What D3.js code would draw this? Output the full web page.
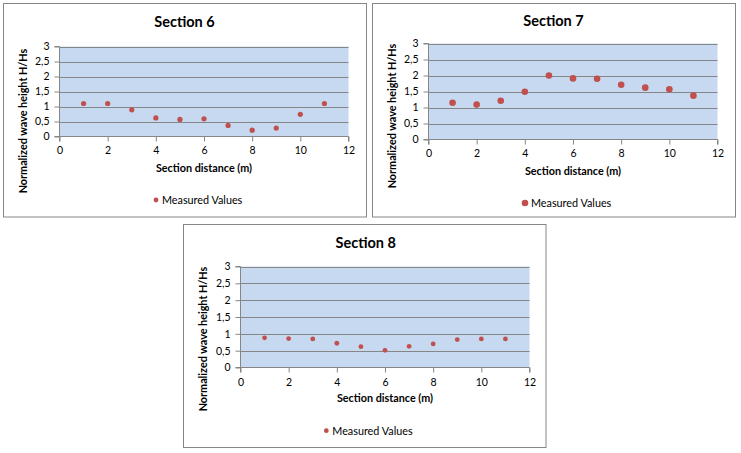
<!DOCTYPE html>
<html>
<head>
<meta charset="utf-8">
<script src="https://cdn.jsdelivr.net/npm/d3@7"></script>
<style>
  html, body { margin: 0; padding: 0; background: #ffffff; }
  svg { display: block; }
  text { font-family: Lato, "Open Sans", sans-serif; fill: #000; }
</style>
</head>
<body>
<svg id="chart" width="741" height="453"></svg>
<script>
// ---- data ----
const xValues = [1, 2, 3, 4, 5, 6, 7, 8, 9, 10, 11];
const section6Values = [1.10, 1.10, 0.89, 0.62, 0.57, 0.59, 0.37, 0.21, 0.28, 0.74, 1.10];
const section7Values = [1.15, 1.09, 1.21, 1.49, 2.00, 1.91, 1.90, 1.71, 1.62, 1.57, 1.37];
const section8Values = [0.88, 0.86, 0.85, 0.72, 0.62, 0.51, 0.63, 0.70, 0.83, 0.85, 0.85];
const panelTitles = ["Section 6", "Section 7", "Section 8"];
const xTicks = [0, 2, 4, 6, 8, 10, 12];
const yTicks = [0, 0.5, 1, 1.5, 2, 2.5, 3];
const yTickLabels = ["0", "0,5", "1", "1,5", "2", "2,5", "3"];
const xAxisTitle = "Section distance (m)";
const yAxisTitle = "Normalized wave height H/Hs";
const legendLabel = "Measured Values";

// ---- layout (positions only) ----
const panels = [
  { values: section6Values, title: panelTitles[0],
    box: [3.5, 3.5, 363, 213.5],
    plot: { left: 59.5, right: 348.5, top: 46.5, bottom: 136.5 },
    titleX: 184.5, titleY: 27, xTickY: 154, xTitleY: 172, yTitleX: 27, yTitleY: 121,
    legX: 156, legY: 200, r: 2.6, legR: 2.4 },
  { values: section7Values, title: panelTitles[1],
    box: [372.5, 3.5, 363, 213.5],
    plot: { left: 428.5, right: 717.5, top: 43.5, bottom: 139.5 },
    titleX: 553.5, titleY: 26, xTickY: 157, xTitleY: 175, yTitleX: 396, yTitleY: 116,
    legX: 525, legY: 203, r: 3.3, legR: 3.3 },
  { values: section8Values, title: panelTitles[2],
    box: [183.5, 224.5, 362.5, 223],
    plot: { left: 240.5, right: 529.5, top: 266.5, bottom: 367.5 },
    titleX: 365.7, titleY: 248, xTickY: 386, xTitleY: 402, yTitleX: 207, yTitleY: 339,
    legX: 326.3, legY: 430.7, r: 2.4, legR: 2.4 }
];

const svg = d3.select("#chart");
const gridColor = "#868686";
const dotColor = "#c0504d";

panels.forEach(p => {
  const g = svg.append("g");
  // panel border
  g.append("rect")
    .attr("x", p.box[0]).attr("y", p.box[1])
    .attr("width", p.box[2]).attr("height", p.box[3])
    .attr("fill", "#fff").attr("stroke", gridColor).attr("stroke-width", 1);

  const x = d3.scaleLinear().domain([0, 12]).range([p.plot.left, p.plot.right]);
  const y = d3.scaleLinear().domain([0, 3]).range([p.plot.bottom, p.plot.top]);

  // plot background
  g.append("rect")
    .attr("x", p.plot.left).attr("y", p.plot.top)
    .attr("width", p.plot.right - p.plot.left)
    .attr("height", p.plot.bottom - p.plot.top)
    .attr("fill", "#c6d9f0");

  // gridlines
  g.selectAll(".grid").data(yTicks.filter(t => t > 0)).enter().append("line")
    .attr("x1", p.plot.left).attr("x2", p.plot.right)
    .attr("y1", d => Math.round(y(d)) + 0.5).attr("y2", d => Math.round(y(d)) + 0.5)
    .attr("stroke", gridColor).attr("stroke-width", 1);

  // y axis
  const yAxis = d3.axisLeft(y).tickValues(yTicks)
    .tickFormat((d, i) => yTickLabels[i]).tickSize(5).tickPadding(5);
  const ya = g.append("g").attr("transform", `translate(${p.plot.left},0)`).call(yAxis);
  ya.select(".domain").attr("stroke", gridColor).attr("d", `M-5,${p.plot.bottom}H0V${p.plot.top}H-5`);
  ya.selectAll(".tick line").attr("stroke", gridColor);
  ya.selectAll(".tick text").attr("font-size", 10.5).attr("font-family", "Lato").attr("fill", "#000");

  // x axis
  const xAxis = d3.axisBottom(x).tickValues(xTicks).tickSize(5).tickFormat(d3.format("d"));
  const xa = g.append("g").attr("transform", `translate(0,${p.plot.bottom})`).call(xAxis);
  xa.select(".domain").attr("stroke", gridColor).attr("d", `M${p.plot.left},5V0H${p.plot.right}V5`);
  xa.selectAll(".tick line").attr("stroke", gridColor);
  xa.selectAll(".tick text").attr("font-size", 10.5).attr("font-family", "Lato").attr("fill", "#000")
    .attr("dy", null).attr("y", p.xTickY - p.plot.bottom);

  // points
  g.selectAll(".pt").data(xValues.map((v, i) => [v, p.values[i]])).enter().append("circle")
    .attr("cx", d => x(d[0])).attr("cy", d => y(d[1]))
    .attr("r", p.r).attr("fill", dotColor);

  // titles
  g.append("text").attr("x", p.titleX).attr("y", p.titleY)
    .attr("text-anchor", "middle").attr("font-size", 14.5).attr("font-weight", "bold")
    .text(p.title);
  g.append("text").attr("x", (p.plot.left + p.plot.right) / 2).attr("y", p.xTitleY)
    .attr("text-anchor", "middle").attr("font-size", 10.8).attr("font-weight", "bold")
    .text(xAxisTitle);
  g.append("text")
    .attr("transform", `translate(${p.yTitleX},${p.yTitleY}) rotate(-90)`)
    .attr("text-anchor", "middle").attr("font-size", 10.8).attr("font-weight", "bold")
    .text(yAxisTitle);

  // legend
  g.append("circle").attr("cx", p.legX).attr("cy", p.legY).attr("r", p.legR).attr("fill", dotColor);
  g.append("text").attr("x", p.legX + 6).attr("y", p.legY + 4)
    .attr("font-size", 10.8).text(legendLabel);
});
</script>
</body>
</html>
